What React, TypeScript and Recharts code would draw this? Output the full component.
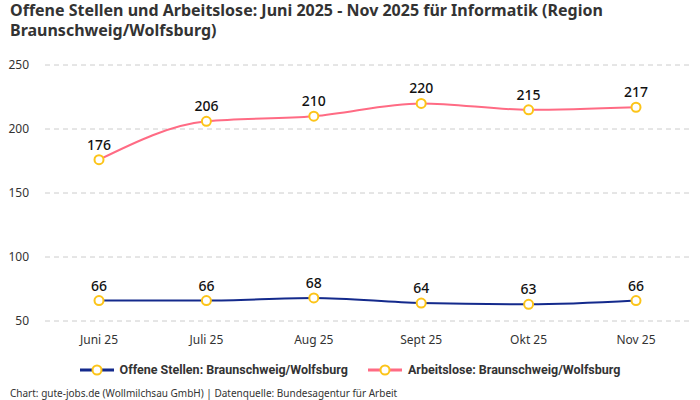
import React from "react";
import { LineChart, Line, XAxis, YAxis, CartesianGrid, LabelList } from "recharts";

const months = ["Juni 25", "Juli 25", "Aug 25", "Sept 25", "Okt 25", "Nov 25"];
const offeneStellen = [66, 66, 68, 64, 63, 66];
const arbeitslose = [176, 206, 210, 220, 215, 217];
const yTicks = [50, 100, 150, 200, 250];

const data = months.map((m, i) => ({ month: m, offen: offeneStellen[i], arbeitslos: arbeitslose[i] }));

const FONT = "'Noto Sans', Roboto, sans-serif";
const BLUE = "#142a8c";
const PINK = "#ff6b84";
const GOLD = "#fcc419";

const dotProps = { r: 4.5, fill: "#fff", stroke: GOLD, strokeWidth: 2 };

const LegendItem = ({ color, label, last }: { color: string; label: string; last?: boolean }) => (
  <div style={{ display: "flex", alignItems: "center", marginRight: last ? 0 : 20 }}>
    <svg width={34} height={12} style={{ marginRight: 6 }}>
      <line x1={0} y1={6} x2={34} y2={6} stroke={color} strokeWidth={3} />
      <circle cx={17} cy={6} r={4.5} fill="#fff" stroke={GOLD} strokeWidth={2} />
    </svg>
    <span style={{ fontFamily: "Roboto, sans-serif", fontWeight: 700, fontSize: 12.5, color: "#333" }}>{label}</span>
  </div>
);

export default function App() {
  return (
    <div style={{ position: "absolute", top: 0, left: 0, width: 700, height: 400, background: "#fff", fontFamily: FONT, overflow: "hidden" }}>
      <div style={{ position: "absolute", left: 10, top: 0, width: 680, fontSize: 16, fontWeight: 700, color: "#333", lineHeight: "20px" }}>
        Offene Stellen und Arbeitslose: Juni 2025 - Nov 2025 für Informatik (Region Braunschweig/Wolfsburg)
      </div>
      <LineChart width={700} height={400} data={data} margin={{ top: 65, right: 10, left: 0, bottom: 49 }} style={{ fontFamily: FONT }}>
        <CartesianGrid vertical={false} stroke="#ccc" strokeDasharray="5 4" />
        <XAxis
          dataKey="month"
          axisLine={false}
          tickLine={false}
          height={30}
          padding={{ left: 54, right: 54 }}
          tick={{ fontSize: 12, fill: "#333" }}
          tickMargin={8}
        />
        <YAxis
          domain={[50, 250]}
          ticks={yTicks}
          axisLine={false}
          tickLine={false}
          width={45}
          tick={{ fontSize: 12, fill: "#333", dx: -8, textAnchor: "end" }}
        />
        <Line type="monotone" dataKey="offen" stroke={BLUE} strokeWidth={2} dot={dotProps} isAnimationActive={false}>
          <LabelList dataKey="offen" position="top" offset={10} style={{ fontSize: 14, fontWeight: 500, fill: "#111" }} />
        </Line>
        <Line type="monotone" dataKey="arbeitslos" stroke={PINK} strokeWidth={2} dot={dotProps} isAnimationActive={false}>
          <LabelList dataKey="arbeitslos" position="top" offset={10} style={{ fontSize: 14, fontWeight: 500, fill: "#111" }} />
        </Line>
      </LineChart>
      <div style={{ position: "absolute", top: 362, left: 0, width: 700, display: "flex", justifyContent: "center", boxSizing: "border-box" }}>
        <LegendItem color={BLUE} label="Offene Stellen: Braunschweig/Wolfsburg" />
        <LegendItem color={PINK} label="Arbeitslose: Braunschweig/Wolfsburg" last />
      </div>
      <div style={{ position: "absolute", left: 10, top: 386, fontSize: 10, color: "#333" }}>
        Chart: gute-jobs.de (Wollmilchsau GmbH) | Datenquelle: Bundesagentur für Arbeit
      </div>
    </div>
  );
}
